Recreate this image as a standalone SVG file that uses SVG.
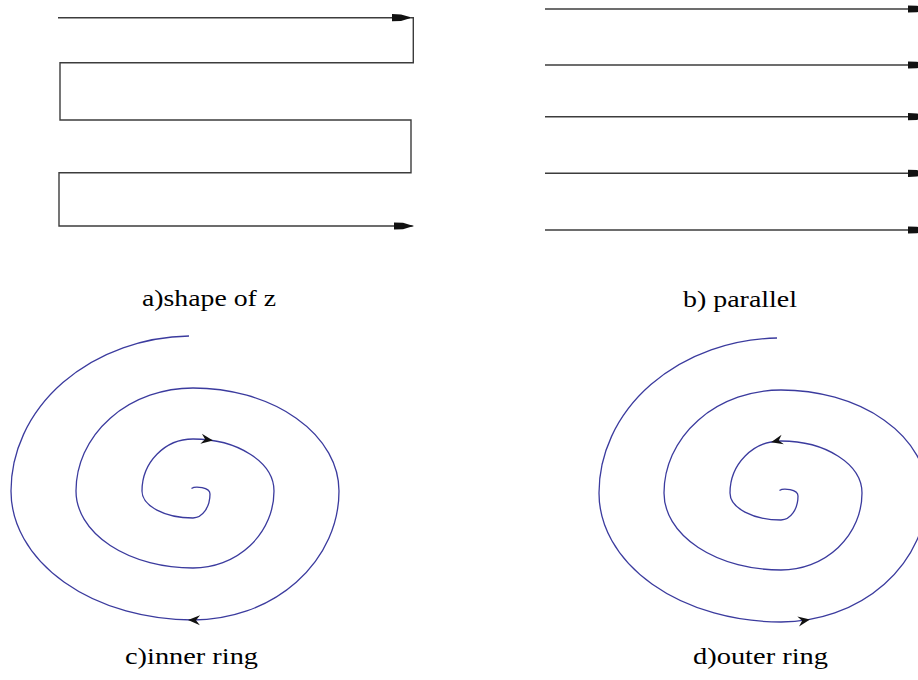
<svg xmlns="http://www.w3.org/2000/svg" xmlns:xlink="http://www.w3.org/1999/xlink" width="918" height="680" viewBox="0 0 918 680">
<style>
.ln{fill:none;stroke:#3c3c3c;stroke-width:1.4}
.sp{fill:none;stroke:#3b3b9e;stroke-width:1.3}
.ah{fill:#111}
.lbl{font-family:"Liberation Serif","Times New Roman",serif;font-size:24px;fill:#000}
</style>
<defs>
<path id="blockArrow" d="M-18,-3.6 L-9,-3.2 L0,-0.6 L0,0.6 L-9,3.2 L-18,3.6 Z"/>
<path id="barbArrow" d="M0,0 L-12,-5 L-8,0 L-12,5 Z"/>
<path id="spiral" d="M191.5,488.5 C195,486 210,487 210,494 A17,24 0 0 1 193,518 A51,27 0 0 1 142,491 A51,52 0 0 1 193,439 A81,52 0 0 1 274,491 A81,77 0 0 1 193,568 A117,77 0 0 1 76,491 A117,103 0 0 1 193,388 A146,103 0 0 1 339,491 A146,129 0 0 1 193,620 A182,129 0 0 1 11,491 A182,155 0 0 1 189,336"/>
</defs>
<rect width="918" height="680" fill="#fff"/>
<g id="panel-a">
<path class="ln" d="M58,17.7 H413.3 V62.7 H60 V120 H411 V172.7 H59 V226 H413.3"/>
<use xlink:href="#blockArrow" class="ah" transform="translate(410,17.7)"/>
<use xlink:href="#blockArrow" class="ah" transform="translate(412,226)"/>
<text class="lbl" x="142" y="306" textLength="134" lengthAdjust="spacingAndGlyphs">a)shape of z</text>
</g>
<g id="panel-b">
<g class="ln">
<path d="M545,9 H926"/>
<path d="M545,65 H926"/>
<path d="M545,116.7 H926"/>
<path d="M545,173.3 H926"/>
<path d="M545,230 H926"/>
</g>
<use xlink:href="#blockArrow" class="ah" transform="translate(926,9)"/>
<use xlink:href="#blockArrow" class="ah" transform="translate(926,65)"/>
<use xlink:href="#blockArrow" class="ah" transform="translate(926,116.7)"/>
<use xlink:href="#blockArrow" class="ah" transform="translate(926,173.3)"/>
<use xlink:href="#blockArrow" class="ah" transform="translate(926,230)"/>
<text class="lbl" x="683" y="306.5" textLength="114" lengthAdjust="spacingAndGlyphs">b) parallel</text>
</g>
<g id="panel-c">
<use xlink:href="#spiral" class="sp"/>
<use xlink:href="#barbArrow" class="ah" transform="translate(213,440.6) rotate(9)"/>
<use xlink:href="#barbArrow" class="ah" transform="translate(188,620) rotate(181)"/>
<text class="lbl" x="125" y="663.5" textLength="133" lengthAdjust="spacingAndGlyphs">c)inner ring</text>
</g>
<g id="panel-d">
<use xlink:href="#spiral" class="sp" transform="translate(588,2)"/>
<use xlink:href="#barbArrow" class="ah" transform="translate(771,442.2) rotate(167)"/>
<use xlink:href="#barbArrow" class="ah" transform="translate(810,619.4) rotate(-10)"/>
<text class="lbl" x="693" y="663.5" textLength="135" lengthAdjust="spacingAndGlyphs">d)outer ring</text>
</g>
</svg>
